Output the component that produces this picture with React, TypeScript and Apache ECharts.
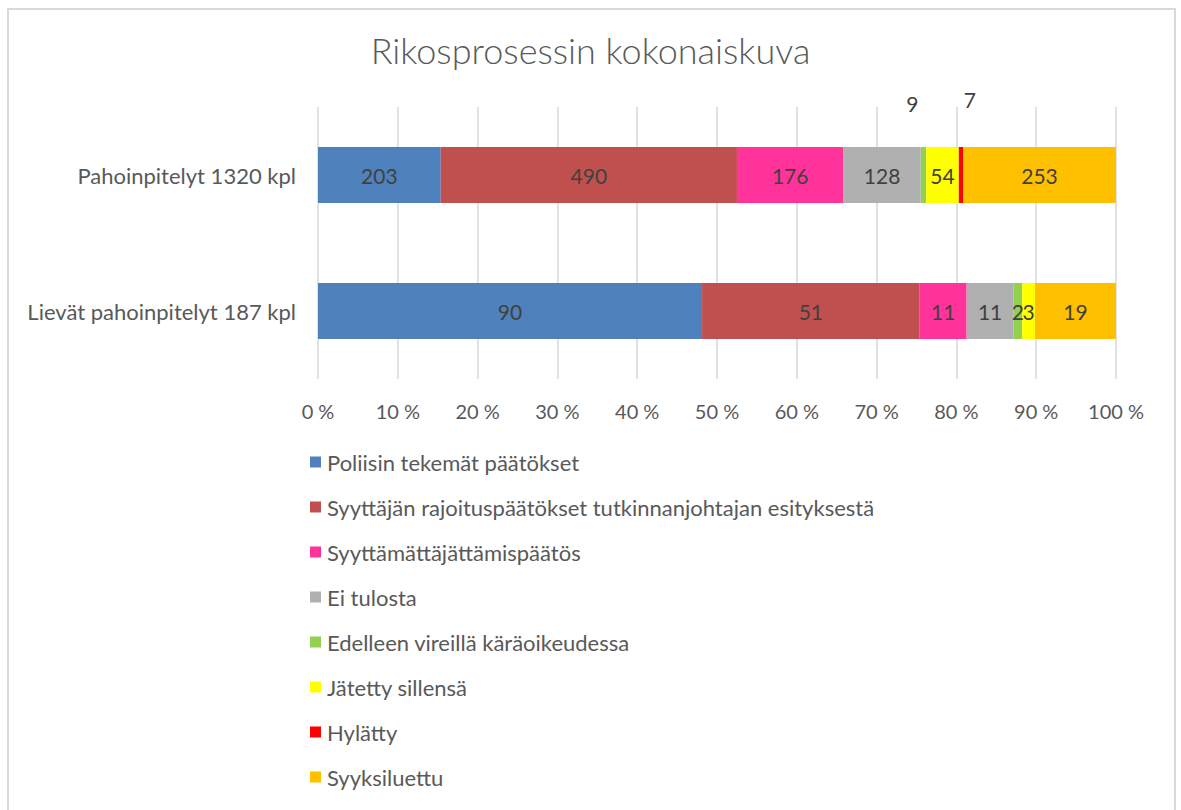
import React, { useEffect, useRef } from "react";
import * as echarts from "echarts";

const categories = ["Lievät pahoinpitelyt 187 kpl", "Pahoinpitelyt 1320 kpl"];
const seriesNames = [
  "Poliisin tekemät päätökset",
  "Syyttäjän rajoituspäätökset tutkinnanjohtajan esityksestä",
  "Syyttämättäjättämispäätös",
  "Ei tulosta",
  "Edelleen vireillä käräoikeudessa",
  "Jätetty sillensä",
  "Hylätty",
  "Syyksiluettu",
];
const colors = ["#4F81BD", "#C0504D", "#FF3399", "#B0B0B0", "#92D050", "#FFFF00", "#FF0000", "#FFC000"];
// values per series: [Lievät, Pahoinpitelyt]
const poliisi = [90, 203];
const syyttajanRajoitus = [51, 490];
const syyttamatta = [11, 176];
const eiTulosta = [11, 128];
const vireilla = [2, 9];
const sillensa = [3, 54];
const hylatty = [0, 7];
const syyksiluettu = [19, 253];
const seriesValues = [poliisi, syyttajanRajoitus, syyttamatta, eiTulosta, vireilla, sillensa, hylatty, syyksiluettu];
const axisTicks = [0, 10, 20, 30, 40, 50, 60, 70, 80, 90, 100];

const FONT = "Lato, 'Open Sans', sans-serif";

export default function App() {
  const ref = useRef<HTMLDivElement>(null);
  useEffect(() => {
    document.body.style.margin = "0";
    const chart = echarts.init(ref.current!, null, { renderer: "svg" });
    const totals = categories.map((_, ci) => seriesValues.reduce((s, arr) => s + arr[ci], 0));
    const series = seriesValues.map((vals, si) => ({
      name: seriesNames[si],
      type: "bar",
      stack: "total",
      barWidth: 56,
      itemStyle: { color: colors[si] },
      label: {
        show: true,
        position: "inside",
        color: "#404040",
        fontFamily: FONT,
        fontSize: 21,
        formatter: (p: any) => (p.data.raw > 0 ? String(p.data.raw) : ""),
      },
      data: vals.map((v, ci) => {
        const item: any = { value: (v / totals[ci]) * 100, raw: v };
        if (ci === 1 && si === 4) {
          item.label = { position: "top", offset: [-11, -28] };
        }
        if (ci === 1 && si === 6) {
          item.label = { position: "top", offset: [9, -32] };
        }
        return item;
      }),
    }));
    chart.setOption({
      animation: false,
      textStyle: { fontFamily: FONT },
      graphic: [
        {
          type: "rect",
          shape: { x: 8, y: 9, width: 1167, height: 820 },
          style: { fill: "none", stroke: "#D9D9D9", lineWidth: 2 },
          silent: true,
        },
      ],
      title: {
        text: "Rikosprosessin kokonaiskuva",
        left: "center",
        top: 27,
        textStyle: { fontFamily: FONT, fontSize: 36, fontWeight: 300, color: "#595959" },
      },
      grid: { left: 318, right: 65, top: 107, height: 272, containLabel: false },
      xAxis: {
        type: "value",
        min: 0,
        max: 100,
        interval: 10,
        axisLine: { show: false },
        axisTick: { show: false },
        splitLine: { show: true, lineStyle: { color: "#D9D9D9", width: 1.5 } },
        axisLabel: {
          margin: 22,
          color: "#595959",
          fontFamily: FONT,
          fontSize: 20,
          formatter: (v: number) => (axisTicks.includes(v) ? v + " %" : ""),
        },
      },
      yAxis: {
        type: "category",
        data: categories,
        axisLine: { show: false },
        axisTick: { show: false },
        axisLabel: { margin: 22, color: "#595959", fontFamily: FONT, fontSize: 22 },
      },
      legend: {
        orient: "vertical",
        left: 305,
        top: 446,
        icon: "rect",
        itemWidth: 11,
        itemHeight: 11,
        itemGap: 23,
        data: seriesNames,
        textStyle: { color: "#595959", fontFamily: FONT, fontSize: 22, lineHeight: 22, padding: [0, 0, 0, 1] },
      },
      series,
    });
    return () => chart.dispose();
  }, []);
  return <div ref={ref} style={{ width: 1181, height: 810 }} />;
}
